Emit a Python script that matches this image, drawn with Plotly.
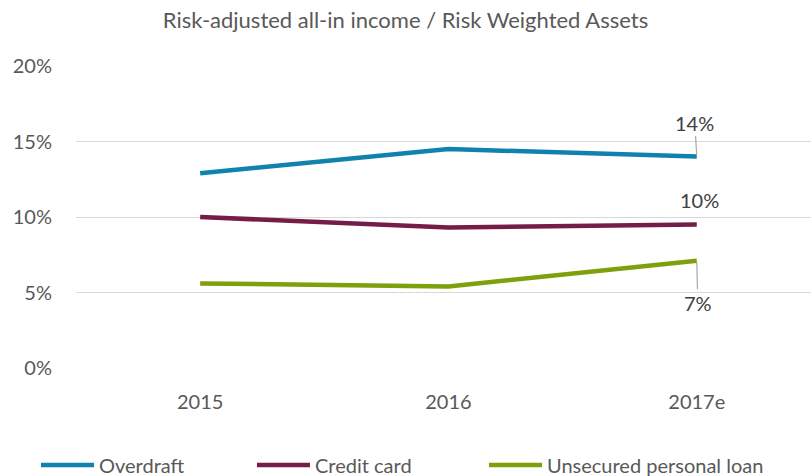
import plotly.graph_objects as go

years = ["2015", "2016", "2017e"]
overdraft = [12.9, 14.5, 14.0]
credit_card = [10.0, 9.3, 9.5]
unsecured_loan = [5.6, 5.4, 7.1]
y_ticks = [0, 5, 10, 15, 20]
y_tick_labels = ["0%", "5%", "10%", "15%", "20%"]

FONT = "Lato, Open Sans, sans-serif"
GREY = "#595959"

series = [
    ("Overdraft", overdraft, "#0F82AE", "legend2", 0.0444),
    ("Credit card", credit_card, "#761C48", "legend3", 0.3107),
    ("Unsecured personal loan", unsecured_loan, "#7DA00C", "legend4", 0.5968),
]

fig = go.Figure()
for name, vals, color, leg, _ in series:
    fig.add_trace(go.Scatter(
        x=years, y=vals, name=name, mode="lines",
        line=dict(color=color, width=4.5), legend=leg,
    ))

# end-of-line value labels with leader lines
label_specs = [
    (overdraft, -2, -34, True),
    (credit_card, 3, -25, False),
    (unsecured_loan, 1, 42, True),
]
for vals, ax, ay, leader in label_specs:
    fig.add_annotation(
        x=years[-1], y=vals[-1], text=f"{round(vals[-1]):.0f}%",
        showarrow=True, arrowhead=0, arrowwidth=1.2,
        arrowcolor="#A6A6A6" if leader else "rgba(0,0,0,0)",
        ax=ax, ay=ay, standoff=2,
        font=dict(family=FONT, size=20, color="#404040"),
    )

# one legend per series so each entry sits at its own spot along the bottom
legend_common = dict(
    orientation="h", xanchor="left", xref="container", yref="container",
    y=0.064, yanchor="top", itemwidth=53, visible=True,
    font=dict(family=FONT, size=20, color=GREY), bgcolor="rgba(0,0,0,0)",
)
legend_layout = {}
for _, _, _, leg, xpos in series:
    legend_layout[leg] = dict(legend_common, x=xpos)

fig.update_layout(
    width=811, height=476,
    margin=dict(l=76, r=0, t=66, b=108, autoexpand=False),
    paper_bgcolor="white", plot_bgcolor="white",
    showlegend=True,
    title=dict(
        text="Risk-adjusted all-in income / Risk Weighted Assets",
        x=0.5, xanchor="center", y=0.957, yanchor="middle",
        font=dict(family=FONT, size=22, color=GREY),
    ),
    xaxis=dict(
        type="category", range=[-0.5, 2.46], showgrid=False, showline=False,
        zeroline=False, ticks="", ticklabelstandoff=20,
        tickfont=dict(family=FONT, size=20, color=GREY),
    ),
    yaxis=dict(
        range=[0, 20], tickvals=y_ticks, ticktext=y_tick_labels,
        showgrid=True, gridcolor="#D9D9D9", gridwidth=1.3, zeroline=False,
        showline=False, ticks="", ticklabelstandoff=23,
        tickfont=dict(family=FONT, size=20, color=GREY),
    ),
    **legend_layout,
)

fig.write_html("out.html")
